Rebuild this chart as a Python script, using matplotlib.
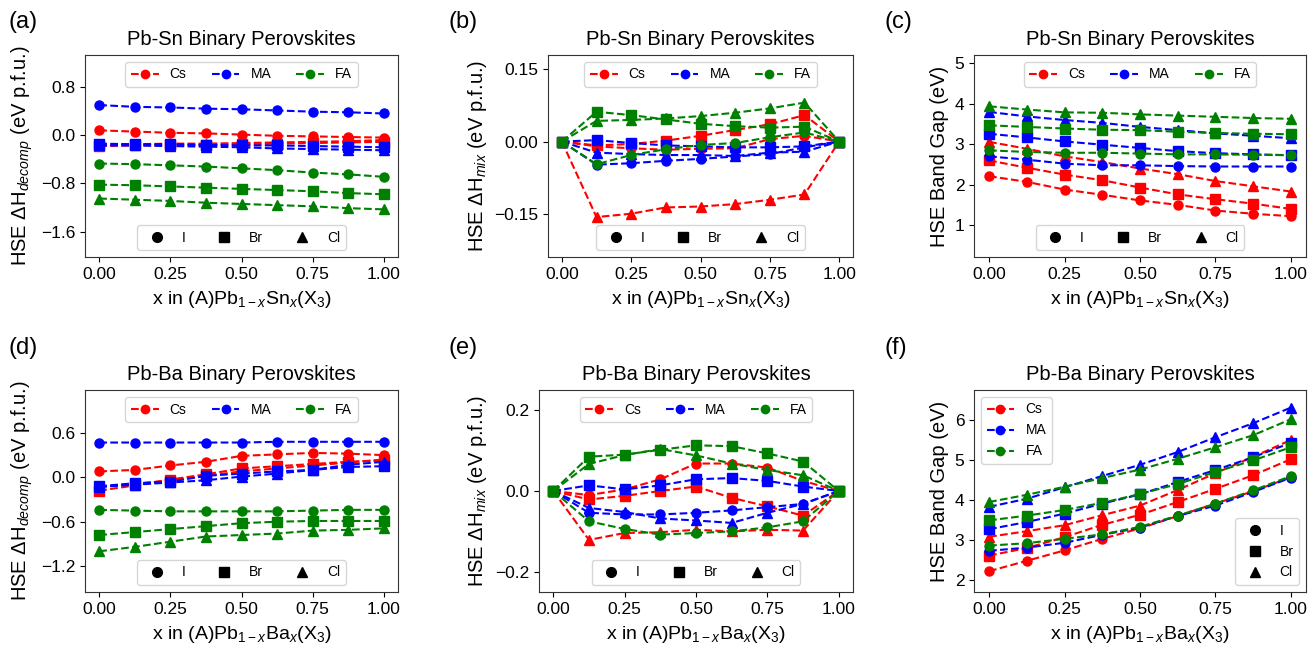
import matplotlib
matplotlib.use('Agg')
import matplotlib.pyplot as plt
from matplotlib.lines import Line2D

# =============================================================================
# Data
# =============================================================================

x_frac = [0.0, 0.125, 0.25, 0.375, 0.5, 0.625, 0.75, 0.875, 1.0]

cations = ['Cs', 'MA', 'FA']
halides = ['I', 'Br', 'Cl']

# (a) Pb-Sn decomposition enthalpy
sn_decomp = {
    ('Cs', 'I'):  [0.08, 0.06, 0.04, 0.03, 0.01, -0.01, -0.02, -0.03, -0.04],
    ('Cs', 'Br'): [-0.18, -0.17, -0.17, -0.16, -0.15, -0.14, -0.13, -0.12, -0.11],
    ('Cs', 'Cl'): [-0.16, -0.15, -0.14, -0.14, -0.13, -0.12, -0.11, -0.10, -0.08],
    ('MA', 'I'):  [0.50, 0.47, 0.46, 0.44, 0.43, 0.41, 0.39, 0.38, 0.36],
    ('MA', 'Br'): [-0.14, -0.15, -0.15, -0.16, -0.17, -0.17, -0.18, -0.19, -0.20],
    ('MA', 'Cl'): [-0.17, -0.17, -0.18, -0.19, -0.20, -0.22, -0.23, -0.24, -0.25],
    ('FA', 'I'):  [-0.47, -0.48, -0.50, -0.52, -0.55, -0.58, -0.62, -0.65, -0.69],
    ('FA', 'Br'): [-0.82, -0.83, -0.85, -0.87, -0.89, -0.91, -0.93, -0.96, -0.98],
    ('FA', 'Cl'): [-1.05, -1.07, -1.09, -1.12, -1.14, -1.16, -1.18, -1.21, -1.23],
}

# (b) Pb-Sn mixing enthalpy
sn_mix = {
    ('Cs', 'I'):  [0, -0.010, -0.014, -0.017, -0.015, -0.014, 0.005, 0.012, 0],
    ('Cs', 'Br'): [0, -0.008, -0.005, 0.002, 0.012, 0.024, 0.036, 0.055, 0],
    ('Cs', 'Cl'): [0, -0.157, -0.150, -0.137, -0.135, -0.130, -0.121, -0.110, 0],
    ('MA', 'I'):  [0, -0.048, -0.045, -0.040, -0.036, -0.031, -0.026, -0.012, 0],
    ('MA', 'Br'): [0, 0.003, -0.003, -0.008, -0.010, -0.012, -0.012, -0.010, 0],
    ('MA', 'Cl'): [0, -0.023, -0.026, -0.028, -0.028, -0.030, -0.023, -0.021, 0],
    ('FA', 'I'):  [0, -0.047, -0.028, -0.016, -0.007, -0.003, 0.009, 0.019, 0],
    ('FA', 'Br'): [0, 0.062, 0.055, 0.046, 0.037, 0.032, 0.029, 0.031, 0],
    ('FA', 'Cl'): [0, 0.043, 0.045, 0.048, 0.053, 0.060, 0.069, 0.081, 0],
}

# (c) Pb-Sn band gap
sn_gap = {
    ('Cs', 'I'):  [2.21, 2.07, 1.88, 1.75, 1.61, 1.50, 1.36, 1.28, 1.22],
    ('Cs', 'Br'): [2.60, 2.42, 2.25, 2.11, 1.93, 1.76, 1.64, 1.53, 1.40],
    ('Cs', 'Cl'): [3.06, 2.89, 2.70, 2.56, 2.40, 2.26, 2.09, 1.96, 1.83],
    ('MA', 'I'):  [2.70, 2.62, 2.52, 2.48, 2.48, 2.46, 2.45, 2.45, 2.45],
    ('MA', 'Br'): [3.26, 3.17, 3.07, 2.99, 2.91, 2.83, 2.78, 2.75, 2.73],
    ('MA', 'Cl'): [3.80, 3.69, 3.60, 3.53, 3.43, 3.35, 3.27, 3.21, 3.15],
    ('FA', 'I'):  [2.85, 2.81, 2.79, 2.79, 2.77, 2.75, 2.75, 2.74, 2.73],
    ('FA', 'Br'): [3.47, 3.43, 3.39, 3.36, 3.35, 3.31, 3.28, 3.26, 3.25],
    ('FA', 'Cl'): [3.94, 3.86, 3.79, 3.78, 3.74, 3.71, 3.68, 3.65, 3.63],
}

# (d) Pb-Ba decomposition enthalpy
ba_decomp = {
    ('Cs', 'I'):  [0.08, 0.10, 0.16, 0.21, 0.29, 0.31, 0.33, 0.32, 0.30],
    ('Cs', 'Br'): [-0.18, -0.11, -0.03, 0.04, 0.12, 0.15, 0.18, 0.21, 0.23],
    ('Cs', 'Cl'): [-0.13, -0.09, -0.04, 0.02, 0.08, 0.12, 0.16, 0.20, 0.24],
    ('MA', 'I'):  [0.47, 0.47, 0.47, 0.47, 0.47, 0.48, 0.48, 0.48, 0.48],
    ('MA', 'Br'): [-0.12, -0.08, -0.06, 0.02, 0.05, 0.08, 0.10, 0.14, 0.15],
    ('MA', 'Cl'): [-0.13, -0.10, -0.07, -0.04, 0.01, 0.05, 0.10, 0.17, 0.21],
    ('FA', 'I'):  [-0.44, -0.45, -0.46, -0.46, -0.46, -0.46, -0.45, -0.44, -0.44],
    ('FA', 'Br'): [-0.78, -0.74, -0.70, -0.66, -0.62, -0.60, -0.59, -0.59, -0.59],
    ('FA', 'Cl'): [-1.00, -0.94, -0.87, -0.80, -0.78, -0.76, -0.72, -0.71, -0.69],
}

# (e) Pb-Ba mixing enthalpy
ba_mix = {
    ('Cs', 'I'):  [0, -0.010, 0.004, 0.029, 0.068, 0.068, 0.058, 0.025, 0],
    ('Cs', 'Br'): [0, -0.021, -0.012, 0.000, 0.011, -0.017, -0.038, -0.061, 0],
    ('Cs', 'Cl'): [0, -0.121, -0.104, -0.102, -0.096, -0.100, -0.096, -0.098, 0],
    ('MA', 'I'):  [0, -0.054, -0.058, -0.058, -0.054, -0.048, -0.040, -0.032, 0],
    ('MA', 'Br'): [0, 0.014, 0.004, 0.014, 0.029, 0.032, 0.025, 0.011, 0],
    ('MA', 'Cl'): [0, -0.042, -0.052, -0.068, -0.073, -0.079, -0.054, -0.032, 0],
    ('FA', 'I'):  [0, -0.075, -0.094, -0.108, -0.104, -0.100, -0.090, -0.075, 0],
    ('FA', 'Br'): [0, 0.085, 0.090, 0.102, 0.113, 0.111, 0.093, 0.073, 0],
    ('FA', 'Cl'): [0, 0.067, 0.089, 0.104, 0.088, 0.068, 0.052, 0.039, 0],
}

# (f) Pb-Ba band gap
ba_gap = {
    ('Cs', 'I'):  [2.22, 2.48, 2.74, 3.03, 3.29, 3.60, 3.91, 4.22, 4.57],
    ('Cs', 'Br'): [2.61, 2.80, 3.07, 3.38, 3.63, 3.95, 4.28, 4.62, 5.02],
    ('Cs', 'Cl'): [3.08, 3.22, 3.37, 3.62, 3.86, 4.25, 4.67, 5.08, 5.50],
    ('MA', 'I'):  [2.73, 2.81, 2.93, 3.13, 3.31, 3.60, 3.86, 4.20, 4.56],
    ('MA', 'Br'): [3.27, 3.45, 3.66, 3.91, 4.14, 4.45, 4.75, 5.07, 5.43],
    ('MA', 'Cl'): [3.83, 4.03, 4.32, 4.60, 4.88, 5.20, 5.57, 5.92, 6.31],
    ('FA', 'I'):  [2.86, 2.92, 3.03, 3.14, 3.33, 3.61, 3.91, 4.24, 4.60],
    ('FA', 'Br'): [3.49, 3.61, 3.75, 3.93, 4.15, 4.40, 4.70, 4.99, 5.32],
    ('FA', 'Cl'): [3.95, 4.13, 4.33, 4.55, 4.76, 5.03, 5.32, 5.62, 6.02],
}

# =============================================================================

plt.rcParams['font.family'] = ['Liberation Sans', 'DejaVu Sans']
plt.rcParams['mathtext.fontset'] = 'custom'
plt.rcParams['mathtext.rm'] = 'Liberation Sans'
plt.rcParams['mathtext.it'] = 'Liberation Sans:italic'
plt.rcParams['mathtext.bf'] = 'Liberation Sans:bold'

colors = {'Cs': 'red', 'MA': 'blue', 'FA': 'green'}
markers = {'I': 'o', 'Br': 's', 'Cl': '^'}

sn_xlabel = r'x in (A)Pb$_{1-x}$Sn$_x$(X$_3$)'
ba_xlabel = r'x in (A)Pb$_{1-x}$Ba$_x$(X$_3$)'
decomp_ylabel = r'HSE $\Delta$H$_{decomp}$ (eV p.f.u.)'
mix_ylabel = r'HSE $\Delta$H$_{mix}$ (eV p.f.u.)'
gap_ylabel = 'HSE Band Gap (eV)'


def drawPanel(ax, data, title, xlabel, ylabel, ylim, yticks, gapLegend=False):
    """Draws one panel with both legends"""
    for cat in cations:
        for hal in halides:
            ax.plot(x_frac, data[(cat, hal)], ls='--', color=colors[cat],
                    marker=markers[hal], markersize=6.5, linewidth=1.5)
    ax.set_title(title, fontsize=14.5, pad=7)
    ax.set_xlabel(xlabel, fontsize=14, labelpad=5)
    ax.set_ylabel(ylabel, fontsize=14.5, labelpad=4)
    ax.set_ylim(ylim)
    ax.set_yticks(yticks)
    ax.set_xticks([0.0, 0.25, 0.5, 0.75, 1.0])
    ax.tick_params(labelsize=12.5)
    for sp in ax.spines.values():
        sp.set_color('#333333')

    catHandles = [Line2D([], [], ls='--', color=colors[c], marker='o',
                         markersize=6) for c in cations]
    halHandles = [Line2D([], [], ls='none', color='black', marker=markers[h],
                         markersize=7) for h in halides]
    if gapLegend:
        leg1 = ax.legend(catHandles, cations, loc='upper left', fontsize=10)
        ax.add_artist(leg1)
        ax.legend(halHandles, halides, loc='lower right', fontsize=10)
    else:
        leg1 = ax.legend(catHandles, cations, loc='upper center', ncol=3,
                         fontsize=10, columnspacing=1.8)
        ax.add_artist(leg1)
        ax.legend(halHandles, halides, loc='lower center', ncol=3,
                  fontsize=10, columnspacing=1.8)


fig = plt.figure(figsize=(13.1, 6.48), dpi=100)
W, H = 1310.0, 648.0


def addAxes(left, right, top, bottom):
    return fig.add_axes([left / W, 1 - bottom / H, (right - left) / W,
                         (bottom - top) / H])


axA = addAxes(85, 398, 55, 257)
axB = addAxes(548, 853, 55, 257)
axC = addAxes(974, 1306, 55, 257)
axD = addAxes(85, 398, 390, 592)
axE = addAxes(539, 853, 390, 592)
axF = addAxes(974, 1306, 390, 592)

drawPanel(axA, sn_decomp, 'Pb-Sn Binary Perovskites', sn_xlabel,
          decomp_ylabel, (-2.02, 1.33), [-1.6, -0.8, 0.0, 0.8])
drawPanel(axB, sn_mix, 'Pb-Sn Binary Perovskites', sn_xlabel,
          mix_ylabel, (-0.24, 0.18), [-0.15, 0.0, 0.15])
drawPanel(axC, sn_gap, 'Pb-Sn Binary Perovskites', sn_xlabel,
          gap_ylabel, (0.21, 5.21), [1, 2, 3, 4, 5])
drawPanel(axD, ba_decomp, 'Pb-Ba Binary Perovskites', ba_xlabel,
          decomp_ylabel, (-1.55, 1.18), [-1.2, -0.6, 0.0, 0.6])
drawPanel(axE, ba_mix, 'Pb-Ba Binary Perovskites', ba_xlabel,
          mix_ylabel, (-0.25, 0.25), [-0.2, 0.0, 0.2])
drawPanel(axF, ba_gap, 'Pb-Ba Binary Perovskites', ba_xlabel,
          gap_ylabel, (1.7, 6.75), [2, 3, 4, 5, 6], gapLegend=True)

for lab, (px, py) in zip(['(a)', '(b)', '(c)', '(d)', '(e)', '(f)'],
                         [(8, 22), (448, 22), (885, 22),
                          (8, 348), (448, 348), (885, 348)]):
    fig.text(px / W, 1 - py / H, lab, fontsize=17, va='center', ha='left')

fig.savefig('out.png', dpi=100)
